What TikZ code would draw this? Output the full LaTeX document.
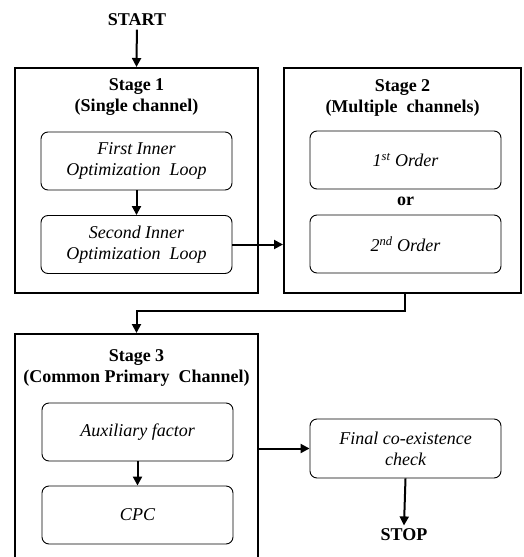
\documentclass[tikz,border=0pt]{standalone}
\usepackage{fontspec}
\setmainfont{Liberation Serif}
\usetikzlibrary{arrows.meta}

\begin{document}
\begin{tikzpicture}[x=1pt, y=-1pt]

  % Set up styles for the flow chart
  \tikzset{
      stagebox/.style={draw, line width=2pt, inner sep=0pt, minimum width=243pt},
      loopbox/.style={draw, line width=0.9pt, rounded corners=7pt, minimum width=191pt,
        minimum height=58pt, align=center, font=\fontsize{18}{21}\selectfont\itshape},
      title/.style={align=center, font=\fontsize{18}{21}\selectfont\bfseries},
      flow/.style={line width=2pt, -{Triangle[length=9pt, width=9pt]}}
  }

  \useasboundingbox (0,0) rectangle (523,557);
  \clip (0,0) rectangle (523,557);

  % outer stage boxes
  \node[stagebox, minimum height=225pt] (stage1) at (136.5, 180.5) {};
  \node[stagebox, minimum width=237pt, minimum height=225pt] (stage2) at (402.5, 180.5) {};
  \node[stagebox, minimum height=236pt] (stage3) at (136.5, 452) {};

  % stage titles
  \node[title] (title1) at (136.5, 97.5) {Stage 1\\(Single channel)};
  \node[title] (title2) at (402.5, 97.5) {Stage 2\\(Multiple\ \ channels)};
  \node[title] (title3) at (136.5, 368) {Stage 3\\(Common Primary\ \ Channel)};

  % inner loops
  \node[loopbox] (first) at (136.5, 161) {First Inner\\Optimization\ \ Loop};
  \node[loopbox] (second) at (136.5, 244.5) {Second Inner\\Optimization\ \ Loop};
  \node[loopbox] (order1) at (405.5, 160) {1\textsuperscript{st} Order};
  \node[title] (or) at (405.5, 201) {or};
  \node[loopbox] (order2) at (405.5, 244) {2\textsuperscript{nd} Order};
  \node[loopbox] (aux) at (137.5, 432) {Auxiliary factor};
  \node[loopbox] (cpc) at (137.5, 515) {CPC};
  \node[loopbox, minimum height=59pt] (final) at (405.5, 448.5) {Final co-existence\\check};

  % start and stop
  \node[title] (start) at (137, 20) {START};
  \node[title] (stop) at (404, 535) {STOP};

  % connectors
  \draw[flow] (start) -- (stage1.north);
  \draw[flow] (first) -- (second);
  \draw[flow] (second.east) -- (second.east -| stage2.west);
  \coordinate (bend) at (405, 311);
  \draw[flow] (stage2.south -| bend) -- (bend) -- (bend -| stage3.north) -- (stage3.north);
  \draw[flow] (aux) -- (cpc);
  \draw[flow] (final.west -| stage3.east) -- (final.west);
  \draw[flow] (final.south) -- (stop.north);

\end{tikzpicture}
\end{document}
